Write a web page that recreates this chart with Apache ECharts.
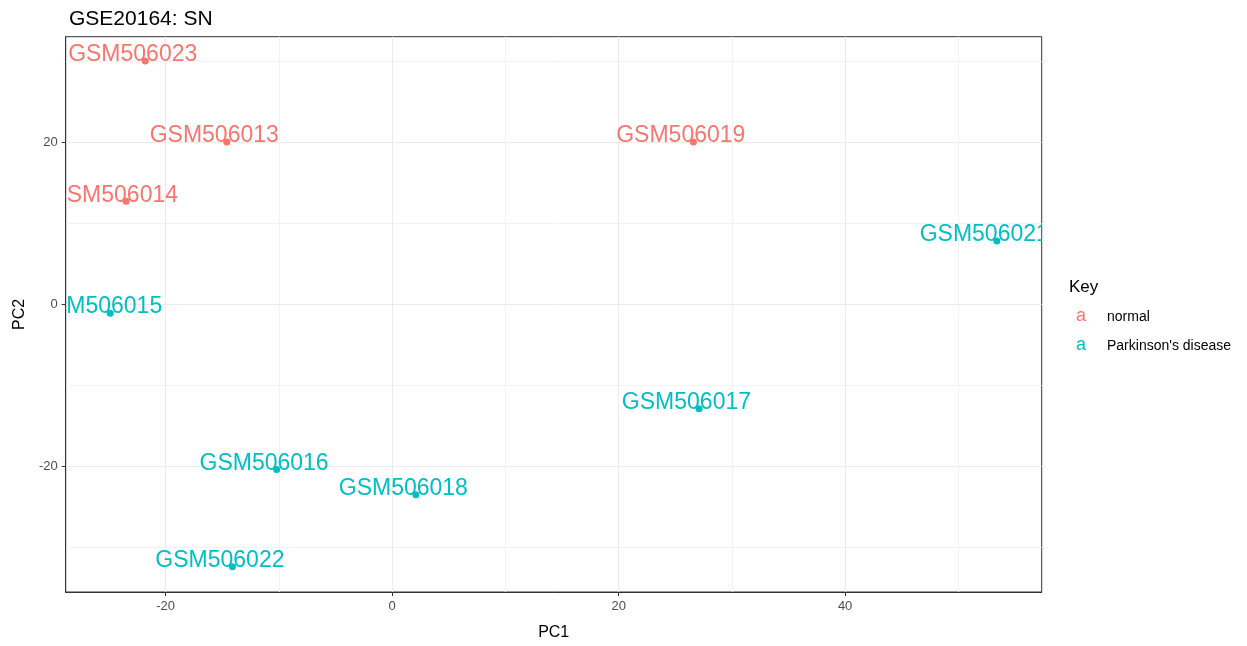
<!DOCTYPE html>
<html>
<head>
<meta charset="utf-8">
<title>GSE20164: SN</title>
<script src="https://cdn.jsdelivr.net/npm/echarts@6/dist/echarts.min.js"></script>
<style>
  html, body { margin: 0; padding: 0; background: #fff; }
  #chart { width: 1247px; height: 646px; }
</style>
</head>
<body>
<div id="chart"></div>
<script>
// PCA scores per sample
const samples = ['GSM506013', 'GSM506014', 'GSM506015', 'GSM506016', 'GSM506017',
                 'GSM506018', 'GSM506019', 'GSM506021', 'GSM506022', 'GSM506023'];
const pc1 = [-14.6, -23.5, -24.9, -10.2, 27.1, 2.1, 26.6, 53.4, -14.1, -21.8];
const pc2 = [20.0, 12.7, -1.1, -20.4, -12.9, -23.5, 20.0, 7.8, -32.4, 30.0];
const groups = ['normal', 'normal', "Parkinson's disease", "Parkinson's disease", "Parkinson's disease",
                "Parkinson's disease", 'normal', "Parkinson's disease", "Parkinson's disease", 'normal'];
const keys = ['normal', "Parkinson's disease"];
const colors = ['#F8766D', '#00BFC4'];

const FONT = '"Liberation Sans", Arial, sans-serif';

const chart = echarts.init(document.getElementById('chart'));

// 每个分组一个 custom series，文字会被绘图区裁掉
const series = keys.map((k, gi) => {
  const idx = samples.map((s, i) => i).filter(i => groups[i] === k);
  const names = idx.map(i => samples[i]);
  return {
    name: k,
    type: 'custom',
    clip: true,
    data: idx.map(i => [pc1[i], pc2[i]]),
    renderItem: (params, api) => {
      const p = api.coord([api.value(0), api.value(1)]);
      return {
        type: 'group',
        children: [
          {
            type: 'text',
            x: p[0] - 12.6,
            y: p[1] - 6,
            style: {
              text: names[params.dataIndex],
              fill: colors[gi],
              font: '23px ' + FONT,
              align: 'center',
              verticalAlign: 'middle'
            }
          },
          {
            type: 'circle',
            shape: { cx: p[0], cy: p[1], r: 3.5 },
            style: { fill: colors[gi] }
          }
        ]
      };
    }
  };
});

// 图例 (ggplot 样式的 "a" 键)
const legendGraphics = [{
  type: 'text', left: 1069, top: 279,
  style: { text: 'Key', fill: '#000', font: '17px ' + FONT }
}];
keys.forEach((k, i) => {
  legendGraphics.push({
    type: 'text', left: 1076, top: 307 + i * 29,
    style: { text: 'a', fill: colors[i], font: '18px ' + FONT }
  });
  legendGraphics.push({
    type: 'text', left: 1107, top: 310 + i * 29,
    style: { text: k, fill: '#000', font: '14px ' + FONT }
  });
});

const axisCommon = {
  type: 'value',
  nameLocation: 'middle',
  nameTextStyle: { color: '#000', fontSize: 16, fontFamily: FONT },
  axisLine: { show: true, onZero: false, lineStyle: { color: '#333333', width: 1 } },
  axisTick: { show: true, length: 4, lineStyle: { color: '#333333' } },
  axisLabel: { color: '#4D4D4D', fontSize: 13, fontFamily: FONT, margin: 8,
               showMinLabel: false, showMaxLabel: false },
  splitLine: { show: true, showMinLine: false, showMaxLine: false,
               lineStyle: { color: '#EBEBEB', width: 1 } },
  minorTick: { show: false, splitNumber: 2 },
  minorSplitLine: { show: true, lineStyle: { color: '#F2F2F2', width: 1 } }
};

chart.setOption({
  backgroundColor: '#fff',
  animation: false,
  title: {
    text: 'GSE20164: SN',
    left: 64, top: 4,
    textStyle: { color: '#000', fontSize: 21, fontWeight: 'normal', fontFamily: FONT }
  },
  grid: {
    left: 65.7, top: 36.7, right: 205.3, bottom: 47.3,
    show: true, borderColor: '#333333', borderWidth: 1, backgroundColor: 'transparent'
  },
  xAxis: Object.assign({}, axisCommon, {
    name: 'PC1', nameGap: 33,
    min: -28.83, max: 57.36, splitNumber: 4
  }),
  yAxis: Object.assign({}, axisCommon, {
    name: 'PC2', nameGap: 31,
    min: -35.5, max: 33.0, splitNumber: 3
  }),
  graphic: legendGraphics,
  series: series
});
</script>
</body>
</html>
